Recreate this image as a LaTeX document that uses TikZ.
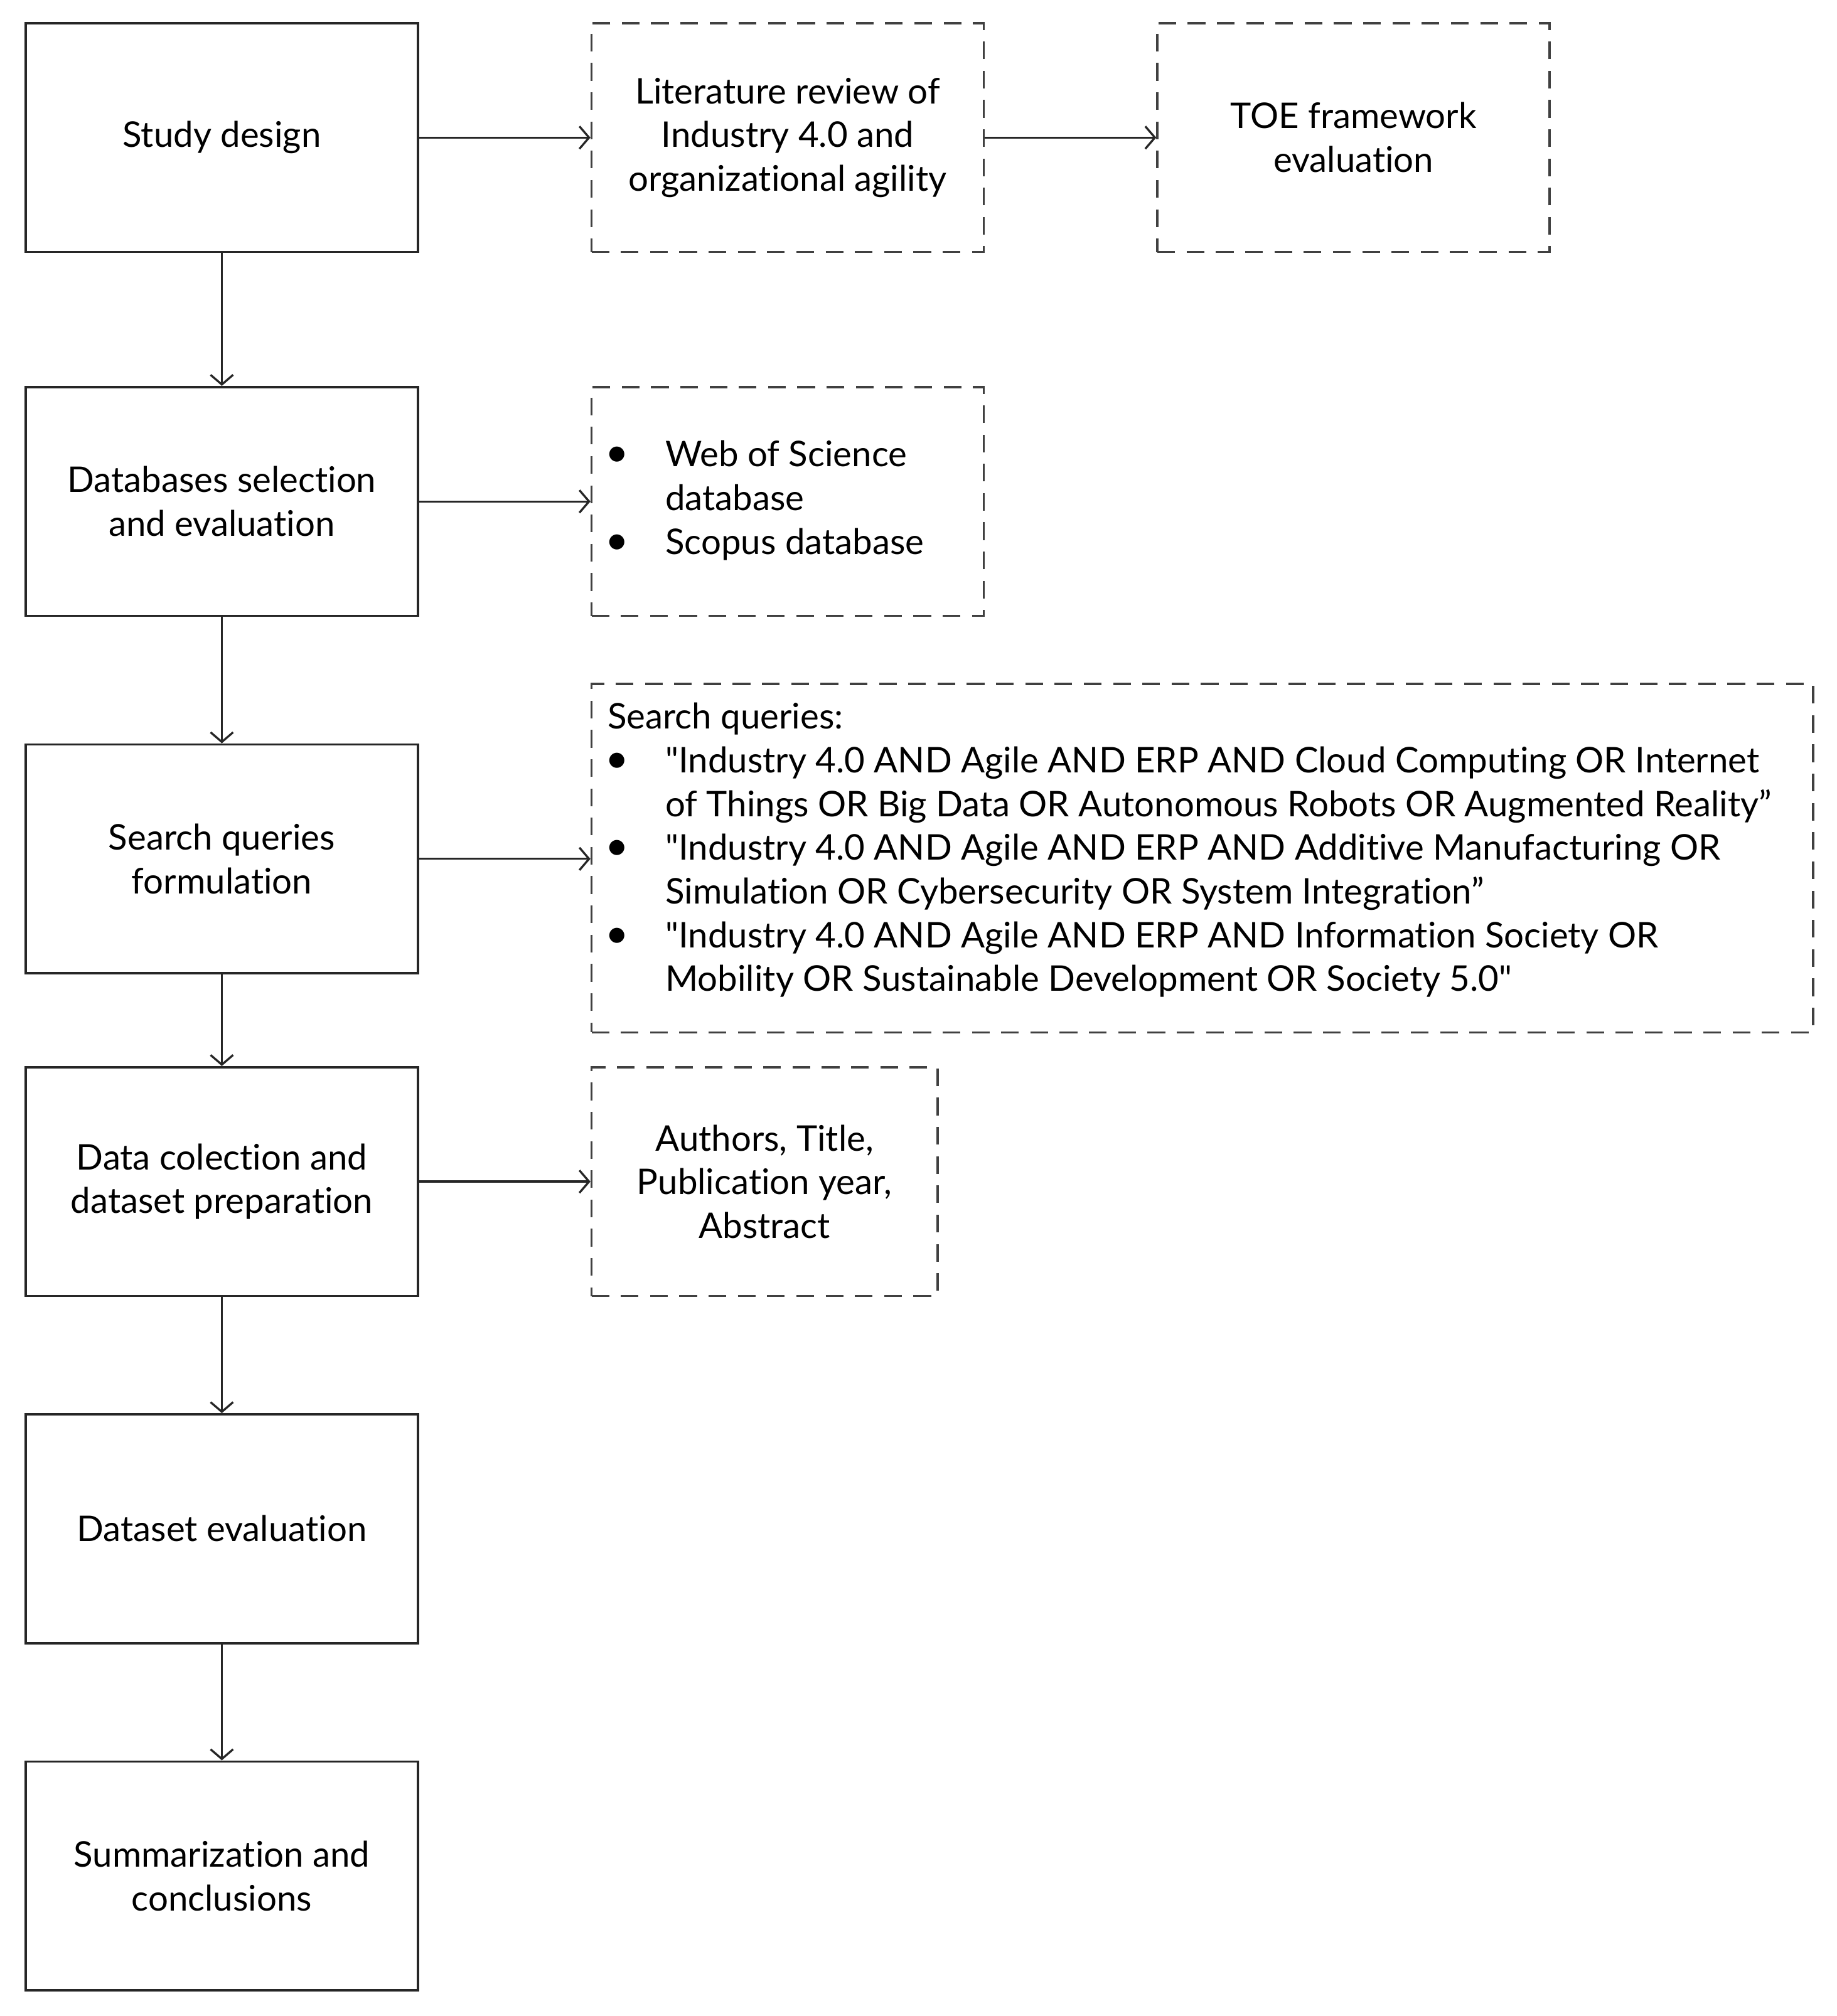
\documentclass[tikz,border=0pt]{standalone}
\usepackage{fontspec}
\setmainfont{Lato}[Ligatures={NoCommon}]
\usetikzlibrary{arrows.meta}
\newcommand\myfs{\fontsize{11}{13.6}\selectfont}
\newcommand\sq{\XeTeXglyph\numexpr\XeTeXcharglyph"22\relax}
\newcommand\mybul{\hspace*{-0.8pt}\scalebox{1.15}{\textbullet}}
\begin{document}
\begin{tikzpicture}[x=0.4pt,y=-0.4pt,
  solidbox/.style={draw=black!85, line width=0.7pt, minimum width=122pt, minimum height=71.2pt, inner sep=0pt, align=center, font=\myfs},
  dashbox/.style={draw=black!75, line width=0.7pt, dash pattern=on 5.5pt off 3.6pt, minimum width=122pt, minimum height=71.2pt, inner sep=0pt, align=center, font=\myfs},
  listtext/.style={inner sep=0pt, font=\myfs, anchor=base west},
  arr/.style={draw=black!85, line width=0.65pt, -{Straight Barb[length=3pt,width=7pt]}}]
\useasboundingbox (0,0) rectangle (1428,1568);
% main column
\node[solidbox] (sd) at (172.5,107) {Study design};
\node[solidbox] (db) at (172.5,390) {Databases selection\\and evaluation};
\node[solidbox] (sqf) at (172.5,668) {Search queries\\formulation};
\node[solidbox] (dc) at (172.5,919) {Data colection and\\dataset preparation};
\node[solidbox] (de) at (172.5,1189) {Dataset evaluation};
\node[solidbox] (sc) at (172.5,1459) {Summarization and\\conclusions};
% side boxes
\node[dashbox] (lit) at (612.5,107) {Literature review of\\Industry 4.0 and\\organizational agility};
\node[dashbox] (toe) at (1052.5,107) {TOE framework\\evaluation};
\node[dashbox] (wos) at (612.5,390) {};
\node[dashbox, minimum width=380pt, minimum height=108.4pt] (sqr) at (935,667.5) {};
\node[dashbox, minimum width=107.6pt] (auth) at (594.5,919) {Authors, Title,\\Publication year,\\Abstract};
% list texts
\node[listtext] (wost) at (472,363) {\begin{tabular}[t]{@{}p{18pt}@{}l@{}}
\mybul & Web of Science\\
 & database\\
\mybul & Scopus database
\end{tabular}};
\node[listtext] (sqt) at (472,567) {\begin{tabular}[t]{@{}p{18pt}@{}l@{}}
\multicolumn{2}{@{}l@{}}{Search queries:}\\
\mybul & \sq Industry 4.0 AND Agile AND ERP AND Cloud Computing OR Internet\\
 & of Things OR Big Data OR Autonomous Robots OR Augmented Reality”\\
\mybul & \sq Industry 4.0 AND Agile AND ERP AND Additive Manufacturing OR\\
 & Simulation OR Cybersecurity OR System Integration”\\
\mybul & \sq Industry 4.0 AND Agile AND ERP AND Information Society OR\\
 & Mobility OR Sustainable Development OR Society 5.0\sq
\end{tabular}};
% connectors
\draw[arr] (sd.east) -- (lit.west);
\draw[arr] (lit.east) -- (toe.west);
\draw[arr] (db.east) -- (wos.west);
\draw[arr] (sqf.east) -- (sqf.east -| sqr.west);
\draw[arr] (dc.east) -- (auth.west);
\draw[arr] (sd.south) -- (db.north);
\draw[arr] (db.south) -- (sqf.north);
\draw[arr] (sqf.south) -- (dc.north);
\draw[arr] (dc.south) -- (de.north);
\draw[arr] (de.south) -- (sc.north);
\end{tikzpicture}
\end{document}
